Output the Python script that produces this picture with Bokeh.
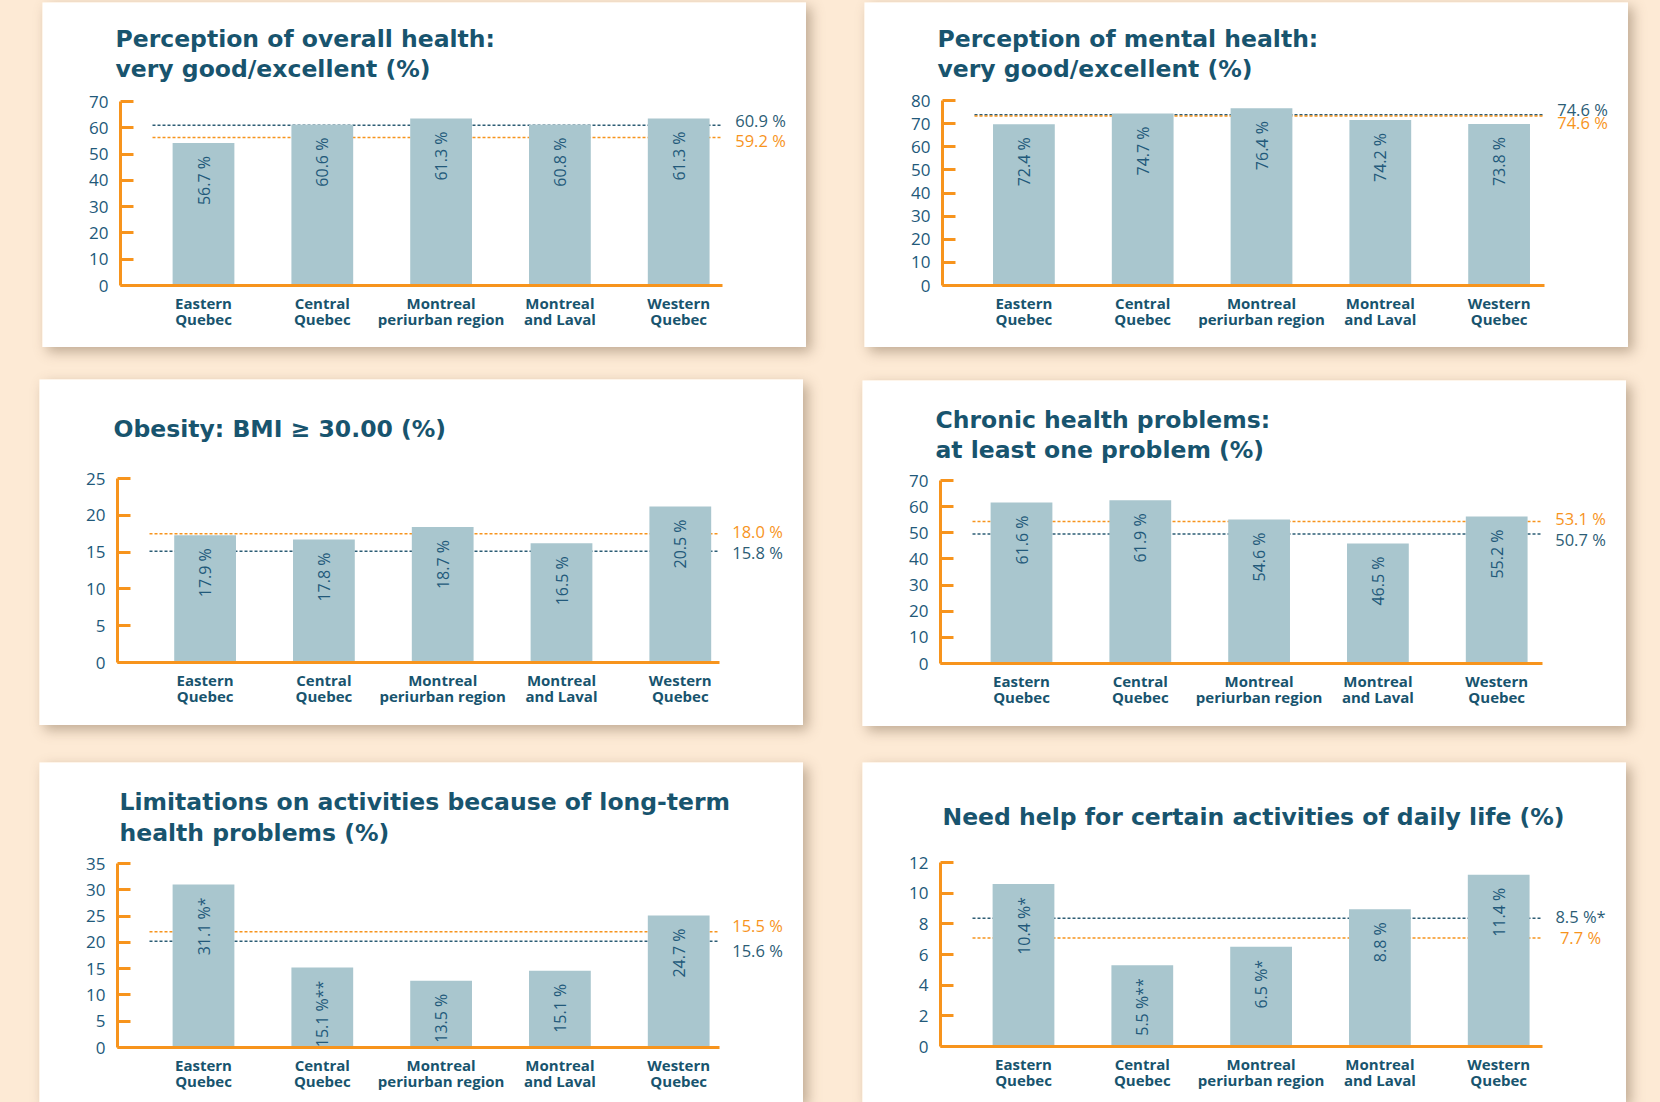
import math
from bokeh.plotting import figure
from bokeh.models import Range1d, FixedTicker, ColumnDataSource
from bokeh.layouts import row, column
from bokeh.embed import file_html
from bokeh.resources import INLINE
from bokeh.core.properties import value

# ---------------- data ----------------
CATEGORIES = ["Eastern\nQuebec", "Central\nQuebec", "Montreal\nperiurban region",
              "Montreal\nand Laval", "Western\nQuebec"]

OVERALL_TITLE = ["Perception of overall health:", "very good/excellent (%)"]
OVERALL_BARS = [54.2, 61.2, 63.5, 61.2, 63.5]
OVERALL_BAR_LABELS = ["56.7 %", "60.6 %", "61.3 %", "60.8 %", "61.3 %"]
OVERALL_REF = [61.0, 56.3]            # navy, orange
OVERALL_REF_LABELS = ["60.9 %", "59.2 %"]
OVERALL_TICKS = [0, 10, 20, 30, 40, 50, 60, 70]

MENTAL_TITLE = ["Perception of mental health:", "very good/excellent (%)"]
MENTAL_BARS = [69.7, 74.4, 76.7, 71.6, 69.8]
MENTAL_BAR_LABELS = ["72.4 %", "74.7 %", "76.4 %", "74.2 %", "73.8 %"]
MENTAL_REF = [73.8, 73.3]
MENTAL_REF_LABELS = ["74.6 %", "74.6 %"]
MENTAL_TICKS = [0, 10, 20, 30, 40, 50, 60, 70, 80]

OBESITY_TITLE = ["Obesity: BMI \u2265 30.00 (%)"]
OBESITY_BARS = [17.3, 16.7, 18.4, 16.2, 21.2]
OBESITY_BAR_LABELS = ["17.9 %", "17.8 %", "18.7 %", "16.5 %", "20.5 %"]
OBESITY_REF = [15.1, 17.5]
OBESITY_REF_LABELS = ["15.8 %", "18.0 %"]
OBESITY_TICKS = [0, 5, 10, 15, 20, 25]

CHRONIC_TITLE = ["Chronic health problems:", "at least one problem (%)"]
CHRONIC_BARS = [61.6, 62.4, 55.1, 45.9, 56.2]
CHRONIC_BAR_LABELS = ["61.6 %", "61.9 %", "54.6 %", "46.5 %", "55.2 %"]
CHRONIC_REF = [49.5, 54.3]
CHRONIC_REF_LABELS = ["50.7 %", "53.1 %"]
CHRONIC_TICKS = [0, 10, 20, 30, 40, 50, 60, 70]

LIMIT_TITLE = ["Limitations on activities because of long-term", "health problems (%)"]
LIMIT_BARS = [31.0, 15.2, 12.7, 14.6, 25.1]
LIMIT_BAR_LABELS = ["31.1 %*", "15.1 %**", "13.5 %", "15.1 %", "24.7 %"]
LIMIT_REF = [20.2, 22.0]
LIMIT_REF_LABELS = ["15.6 %", "15.5 %"]
LIMIT_TICKS = [0, 5, 10, 15, 20, 25, 30, 35]

HELP_TITLE = ["Need help for certain activities of daily life (%)"]
HELP_BARS = [10.6, 5.3, 6.5, 8.95, 11.2]
HELP_BAR_LABELS = ["10.4 %*", "5.5 %**", "6.5 %*", "8.8 %", "11.4 %"]
HELP_REF = [8.36, 7.07]
HELP_REF_LABELS = ["8.5 %*", "7.7 %"]
HELP_TICKS = [0, 2, 4, 6, 8, 10, 12]

# ---------------- style ----------------
PEACH = "#FDEAD5"
ORANGE = "#F7941D"
NAVY = "#2C5D75"
BAR = "#A9C6CE"
TITLE_C = "#18546E"
TEXT_C = "#22597A"
TITLE_FONT = "DejaVu Sans"
LABEL_FONT = "Open Sans"

PANEL_W = 764
AXIS_X = 78              # y-axis position from panel left (px)
AXIS_LEN = 602           # x-axis length (px)
PX_PER_CAT = 118.8       # px per category
DASH_START = 32          # dashed reference lines start, px right of the y-axis


def make_panel(title_lines, bars, bar_labels, refs, ref_labels, ticks,
               height, axis_top, axis_bottom, first_center,
               title_dx, title_ys, ref_dys):
    xs = list(range(len(CATEGORIES)))
    ymax = ticks[-1]
    ypx = (axis_bottom - axis_top) / ymax
    ax0 = -first_center / PX_PER_CAT
    ax1 = ax0 + AXIS_LEN / PX_PER_CAT
    x_start = ax0 - AXIS_X / PX_PER_CAT
    x_end = ax0 + (PANEL_W - AXIS_X) / PX_PER_CAT
    y_start = -(height - axis_bottom) / ypx
    y_end = ymax + axis_top / ypx

    p = figure(width=PANEL_W, height=height,
               x_range=Range1d(x_start, x_end), y_range=Range1d(y_start, y_end),
               output_backend="svg", toolbar_location=None,
               min_border_left=0, min_border_right=0,
               min_border_top=0, min_border_bottom=0)
    p.outline_line_color = None
    p.grid.visible = False
    p.background_fill_color = "white"
    p.border_fill_color = "white"
    p.styles = {"box-shadow": "5px 5px 12px rgba(120, 95, 70, 0.45)"}

    yax = p.yaxis[0]
    yax.fixed_location = ax0
    yax.bounds = (ticks[0], ymax)
    yax.ticker = FixedTicker(ticks=ticks)
    yax.axis_line_color = ORANGE
    yax.axis_line_width = 3
    yax.major_tick_line_color = ORANGE
    yax.major_tick_line_width = 3
    yax.major_tick_in = 13
    yax.major_tick_out = 0
    yax.minor_tick_line_color = None
    yax.major_label_text_font = LABEL_FONT
    yax.major_label_text_font_size = "17px"
    yax.major_label_text_color = TEXT_C
    yax.major_label_standoff = 12

    xax = p.xaxis[0]
    xax.fixed_location = 0
    xax.bounds = (ax0, ax1)
    xax.ticker = FixedTicker(ticks=xs)
    xax.major_label_overrides = {i: c for i, c in enumerate(CATEGORIES)}
    xax.axis_line_color = ORANGE
    xax.axis_line_width = 3
    xax.major_tick_line_color = None
    xax.minor_tick_line_color = None
    xax.major_label_text_font = LABEL_FONT
    xax.major_label_text_font_style = "bold"
    xax.major_label_text_font_size = "15px"
    xax.major_label_text_color = TITLE_C
    xax.major_label_text_line_height = 0.82
    xax.major_label_standoff = 1

    for val, lab, col, dy in zip(refs, ref_labels, [NAVY, ORANGE], ref_dys):
        p.segment(x0=ax0 + DASH_START / PX_PER_CAT, y0=val, x1=ax1, y1=val,
                  line_color=col, line_dash="3 2", line_width=1.5)
        p.text(x=[ax1], y=[val], text=[lab], x_offset=38, y_offset=-dy,
               text_align="center", text_baseline="middle",
               text_font=value(LABEL_FONT), text_font_size="16.5px", text_color=col)

    src = ColumnDataSource(dict(x=xs, top=bars, label=bar_labels))
    p.vbar(x="x", top="top", width=0.52, source=src, fill_color=BAR, line_color=None)
    p.text(x="x", y="top", text="label", source=src, angle=math.pi / 2,
           text_align="right", text_baseline="middle", y_offset=13,
           text_font=value(LABEL_FONT), text_font_size="16px", text_color=TEXT_C)

    for line, ty in zip(title_lines, title_ys):
        p.text(x=[ax0], y=[ymax], text=[line], x_offset=title_dx, y_offset=-ty,
               text_baseline="alphabetic", text_align="left",
               text_font=value(TITLE_FONT), text_font_style="bold",
               text_font_size="23.5px", text_color=TITLE_C)
    return p


p1 = make_panel(OVERALL_TITLE, OVERALL_BARS, OVERALL_BAR_LABELS, OVERALL_REF, OVERALL_REF_LABELS,
                OVERALL_TICKS, 345, 99, 283, 83, -5, [62.5, 33], [5, -3])
p2 = make_panel(MENTAL_TITLE, MENTAL_BARS, MENTAL_BAR_LABELS, MENTAL_REF, MENTAL_REF_LABELS,
                MENTAL_TICKS, 345, 98, 283, 81.4, -5, [61.5, 32], [5, -7])
p3 = make_panel(OBESITY_TITLE, OBESITY_BARS, OBESITY_BAR_LABELS, OBESITY_REF, OBESITY_REF_LABELS,
                OBESITY_TICKS, 346, 99, 283, 87.6, -4, [49.5], [-1, 2])
p4 = make_panel(CHRONIC_TITLE, CHRONIC_BARS, CHRONIC_BAR_LABELS, CHRONIC_REF, CHRONIC_REF_LABELS,
                CHRONIC_TICKS, 346, 100, 283, 81, -5, [61, 31], [-5, 3])
p5 = make_panel(LIMIT_TITLE, LIMIT_BARS, LIMIT_BAR_LABELS, LIMIT_REF, LIMIT_REF_LABELS,
                LIMIT_TICKS, 340, 101, 285, 86, 2, [62, 31], [-9, 6])
p6 = make_panel(HELP_TITLE, HELP_BARS, HELP_BAR_LABELS, HELP_REF, HELP_REF_LABELS,
                HELP_TICKS, 340, 100, 284, 83, 2, [45.5], [2, 1])

p1.margin = (2, 0, 0, 42)
p2.margin = (2, 0, 0, 58)
p3.margin = (32, 0, 0, 39)
p4.margin = (33, 0, 0, 59)
p5.margin = (36, 0, 0, 39)
p6.margin = (36, 0, 0, 59)

layout = column(row(p1, p2), row(p3, p4), row(p5, p6), width=1660, height=1102,
                styles={"background-color": PEACH})

open("out.html", "w").write(file_html(layout, INLINE))
